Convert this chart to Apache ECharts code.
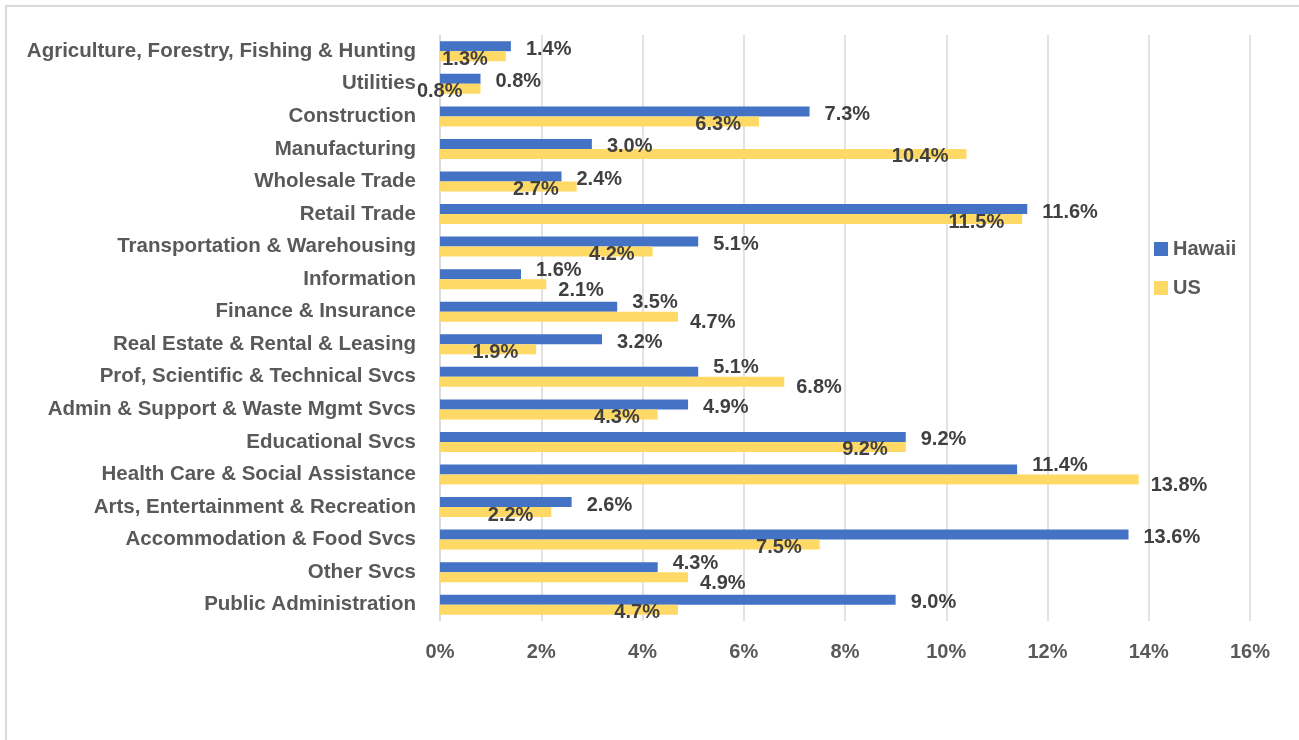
<!DOCTYPE html>
<html>
<head>
<meta charset="utf-8">
<script src="https://cdn.jsdelivr.net/npm/echarts@6/dist/echarts.min.js"></script>
<style>
  html, body { margin: 0; padding: 0; background: #ffffff; }
  #chart { width: 1299px; height: 740px; }
</style>
</head>
<body>
<div id="chart"></div>
<script>
// Industry share of employment, Hawaii vs US (percent)
const industries = [
  'Agriculture, Forestry, Fishing & Hunting',
  'Utilities',
  'Construction',
  'Manufacturing',
  'Wholesale Trade',
  'Retail Trade',
  'Transportation & Warehousing',
  'Information',
  'Finance & Insurance',
  'Real Estate & Rental & Leasing',
  'Prof, Scientific & Technical Svcs',
  'Admin & Support & Waste Mgmt Svcs',
  'Educational Svcs',
  'Health Care & Social Assistance',
  'Arts, Entertainment & Recreation',
  'Accommodation & Food Svcs',
  'Other Svcs',
  'Public Administration'
];
const hawaii = [1.4, 0.8, 7.3, 3.0, 2.4, 11.6, 5.1, 1.6, 3.5, 3.2, 5.1, 4.9, 9.2, 11.4, 2.6, 13.6, 4.3, 9.0];
const us     = [1.3, 0.8, 6.3, 10.4, 2.7, 11.5, 4.2, 2.1, 4.7, 1.9, 6.8, 4.3, 9.2, 13.8, 2.2, 7.5, 4.9, 4.7];
const xTicks = { min: 0, max: 16, interval: 2 };

const FONT = '"Liberation Sans Narrow", "Liberation Sans", sans-serif';
const pct = p => p.value.toFixed(1) + '%';

// When the US bar runs a little past the Hawaii bar, its label would collide
// with the Hawaii label, so it moves outside the bar end and the Hawaii label lifts.
const crowded = us.map((u, i) => u - hawaii[i] > 0.4 && u - hawaii[i] < 3);

const hawaiiData = hawaii.map((v, i) => crowded[i]
  ? { value: v, label: { offset: [0, -4] } }
  : v);
const usData = us.map((v, i) => crowded[i]
  ? { value: v, label: { position: 'right', distance: 12, offset: [0, 6] } }
  : v);

const chart = echarts.init(document.getElementById('chart'), null, { renderer: 'canvas' });
chart.setOption({
  backgroundColor: '#ffffff',
  animation: false,
  textStyle: { fontFamily: FONT },
  graphic: [{
    type: 'rect',
    shape: { x: 6, y: 6, width: 1400, height: 1000 },
    style: { fill: 'none', stroke: '#d9d9d9', lineWidth: 2 },
    silent: true,
    z: -10
  }],
  grid: { left: 440, right: 49, top: 35, bottom: 119, containLabel: false },
  legend: {
    orient: 'vertical',
    left: 1149,
    top: 234,
    itemWidth: 14,
    itemHeight: 14,
    itemGap: 19,
    icon: 'rect',
    textStyle: { fontFamily: FONT, fontSize: 20, fontWeight: 'bold', color: '#595959', lineHeight: 20 },
    data: ['Hawaii', 'US']
  },
  xAxis: {
    type: 'value',
    min: xTicks.min,
    max: xTicks.max,
    interval: xTicks.interval,
    axisLine: { show: false },
    axisTick: { show: false },
    splitLine: { show: true, lineStyle: { color: '#d9d9d9', width: 1.5 } },
    axisLabel: {
      formatter: '{value}%',
      margin: 21,
      fontFamily: FONT, fontSize: 20, fontWeight: 'bold', color: '#595959'
    }
  },
  yAxis: {
    type: 'category',
    inverse: true,
    data: industries,
    axisLine: { show: true, lineStyle: { color: '#d9d9d9', width: 1.5 } },
    axisTick: { show: false },
    axisLabel: {
      margin: 24,
      fontFamily: FONT, fontSize: 20.5, fontWeight: 'bold', color: '#595959'
    }
  },
  series: [
    {
      name: 'Hawaii',
      type: 'bar',
      data: hawaiiData,
      barWidth: 10,
      barGap: '0%',
      itemStyle: { color: '#4472C4' },
      label: {
        show: true,
        position: 'right',
        distance: 15,
        offset: [0, 3],
        formatter: pct,
        fontFamily: FONT, fontSize: 20, fontWeight: 'bold', color: '#404040'
      }
    },
    {
      name: 'US',
      type: 'bar',
      data: usData,
      barWidth: 10,
      itemStyle: { color: '#FFD966' },
      label: {
        show: true,
        position: 'insideRight',
        distance: 18,
        offset: [0, 3],
        formatter: pct,
        fontFamily: FONT, fontSize: 20, fontWeight: 'bold', color: '#404040'
      }
    }
  ]
});
</script>
</body>
</html>
